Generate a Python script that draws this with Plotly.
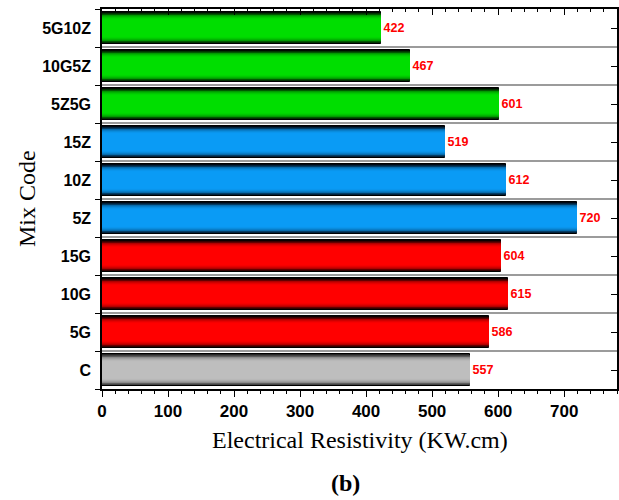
import plotly.graph_objects as go
import numpy as np

categories = ["C", "5G", "10G", "15G", "5Z", "10Z", "15Z", "5Z5G", "10G5Z", "5G10Z"]
values = [557, 586, 615, 604, 720, 612, 519, 601, 467, 422]
groups = ["gray", "red", "red", "red", "blue", "blue", "blue", "green", "green", "green"]
x_ticks = [0, 100, 200, 300, 400, 500, 600, 700]

centers = {"gray": (190, 190, 190), "red": (255, 0, 0), "blue": (10, 155, 245), "green": (0, 222, 0)}
edges = {"gray": (40, 40, 40), "red": (10, 0, 0), "blue": (0, 8, 20), "green": (0, 12, 0)}

ypos = list(range(len(categories)))
fig = go.Figure()

N = 18
outer = 0.85
for i in range(N):
    t = i / (N - 1)
    f = np.sin(np.pi / 2 * min(1.0, t * 2.0))
    cols = []
    for g in groups:
        c0, c1 = edges[g], centers[g]
        cols.append("rgb(%d,%d,%d)" % tuple(int(round(a + (b - a) * f)) for a, b in zip(c0, c1)))
    w = outer * (1 - i / N)
    kw = {}
    if i == 0:
        kw = dict(text=[str(v) for v in values], textposition="outside",
                  textfont=dict(family="Liberation Sans", size=12.5, color="#ff0000", weight="bold"),
                  cliponaxis=False)
    fig.add_trace(go.Bar(
        x=values, y=ypos, orientation="h", width=w,
        marker=dict(color=cols, line=dict(color="black", width=1 if i == 0 else 0)),
        showlegend=False, hoverinfo="skip", **kw))

shapes = []
for k in range(len(categories) - 1):
    shapes.append(dict(type="line", xref="paper", x0=0, x1=1, yref="y", y0=k + 0.5, y1=k + 0.5,
                       line=dict(color="#7a7a7a", width=1.5), layer="below"))

tickfont = dict(family="Liberation Sans", size=17, color="black", weight="bold")
fig.update_layout(
    width=619, height=500,
    margin=dict(l=102, r=2, t=9, b=111),
    barmode="overlay", bargap=0,
    plot_bgcolor="white", paper_bgcolor="white",
    shapes=shapes,
    xaxis=dict(range=[0, 780], tickvals=x_ticks, ticks="outside", ticklen=6, tickwidth=1.3,
               tickcolor="black", showline=True, linecolor="black", linewidth=1.5,
               showgrid=False, zeroline=False, tickfont=tickfont,
               minor=dict(dtick=20, tick0=0, ticks="outside", ticklen=3, tickcolor="black", tickwidth=1)),
    xaxis2=dict(range=[0, 780], overlaying="x", side="top", tickvals=x_ticks, ticks="inside", ticklen=6,
                tickwidth=1.3, tickcolor="black", showline=True, linecolor="black", linewidth=1.5,
                showgrid=False, zeroline=False, showticklabels=False,
                minor=dict(dtick=20, tick0=0, ticks="inside", ticklen=3, tickcolor="black", tickwidth=1)),
    yaxis=dict(range=[-0.5, len(categories) - 0.5], tickvals=ypos, ticktext=categories, ticks="",
               showline=True, linecolor="black", linewidth=1.5, showgrid=False, zeroline=False,
               tickfont=dict(family="Liberation Sans", size=16, color="black", weight="bold"),
               ticklabelstandoff=6,
               minor=dict(tickvals=[k + 0.5 for k in range(-1, len(categories))], ticks="outside",
                          ticklen=5, tickcolor="black", tickwidth=1.3)),
    yaxis2=dict(range=[-0.5, len(categories) - 0.5], overlaying="y", side="right", tickvals=ypos,
                ticks="inside", ticklen=6, tickwidth=1.3, tickcolor="black", showline=True,
                linecolor="black", linewidth=1.5, showgrid=False, zeroline=False, showticklabels=False),
    annotations=[
        dict(text="Electrical Resistivity (KW.cm)", xref="paper", yref="paper", x=0.5, y=0,
             yshift=-51, showarrow=False, yanchor="middle",
             font=dict(family="Liberation Serif", size=24, color="black")),
        dict(text="Mix Code", xref="paper", yref="paper", x=0, y=0.5, xshift=-75, showarrow=False,
             textangle=-90, xanchor="center", font=dict(family="Liberation Serif", size=24, color="black")),
        dict(text="<b>(b)</b>", xref="paper", yref="paper", x=0.472, y=0, yshift=-94, showarrow=False,
             yanchor="middle", font=dict(family="Liberation Serif", size=24, color="black")),
    ],
)
fig.add_trace(go.Scatter(x=[None], y=[None], xaxis="x2", yaxis="y2", showlegend=False, hoverinfo="skip"))
fig.write_html("out.html")
